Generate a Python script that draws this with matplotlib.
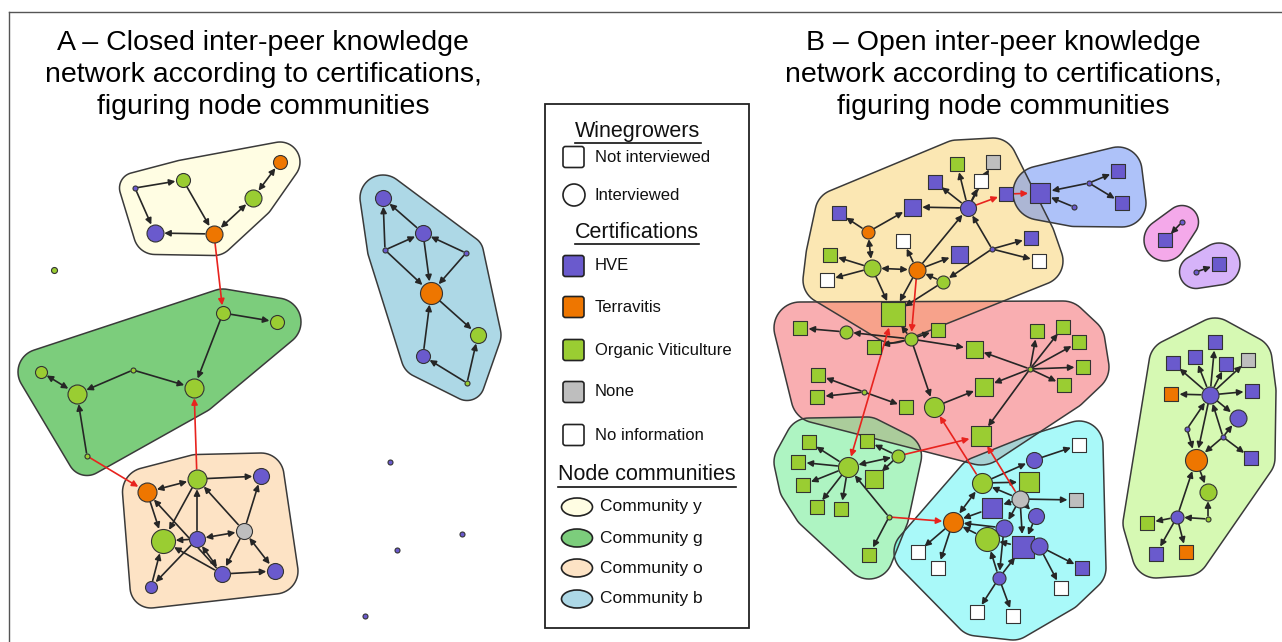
import matplotlib
matplotlib.use("Agg")
import matplotlib.pyplot as plt
from matplotlib.patches import Polygon, Rectangle, FancyBboxPatch, Ellipse
import numpy as np

plt.rcParams['font.family'] = ['Liberation Sans', 'DejaVu Sans']

# certification colours
cert_colors = {"HVE": "#6a5acd", "T": "#ee7600", "OV": "#9acd32",
               "None": "#bebebe", "NI": "#ffffff"}

# ---------------- panel A : closed network ----------------
# (id, x, y, shape, certification, radius / half side in px)
A_comm_y = [("y1", 135, 188, "c", "HVE", 2.5), ("y2", 183, 180, "c", "OV", 7),
            ("y3", 280, 162, "c", "T", 7), ("y4", 253, 198, "c", "OV", 8.5),
            ("y5", 155, 233, "c", "HVE", 8.5), ("y6", 214, 234, "c", "T", 8.5)]
A_comm_g = [("g1", 223, 313, "c", "OV", 7), ("g2", 277, 322, "c", "OV", 7),
            ("g3", 41, 372, "c", "OV", 6), ("g4", 133, 370, "c", "OV", 2.5),
            ("g5", 77, 394, "c", "OV", 9.5), ("g6", 194, 388, "c", "OV", 9.5),
            ("g7", 87, 456, "c", "OV", 2.5)]
A_comm_o = [("o1", 147, 492, "c", "T", 9.5), ("o2", 197, 479, "c", "OV", 9.5),
            ("o3", 261, 476, "c", "HVE", 8), ("o4", 163, 541, "c", "OV", 12),
            ("o5", 197, 539, "c", "HVE", 8), ("o6", 244, 531, "c", "None", 8),
            ("o7", 151, 587, "c", "HVE", 6), ("o8", 222, 574, "c", "HVE", 8),
            ("o9", 275, 571, "c", "HVE", 8)]
A_comm_b = [("b1", 383, 198, "c", "HVE", 8), ("b2", 423, 233, "c", "HVE", 8),
            ("b3", 385, 250, "c", "HVE", 2.5), ("b4", 466, 253, "c", "HVE", 2.5),
            ("b5", 431, 293, "c", "T", 11), ("b6", 478, 335, "c", "OV", 8),
            ("b7", 423, 356, "c", "HVE", 7), ("b8", 467, 383, "c", "OV", 2.5)]
A_isolated = [("i1", 54, 270, "c", "OV", 3), ("i2", 390, 462, "c", "HVE", 2.5),
              ("i3", 462, 534, "c", "HVE", 2.5), ("i4", 397, 550, "c", "HVE", 2.5),
              ("i5", 365, 616, "c", "HVE", 2.5)]

A_edges = [("y1", "y2"), ("y1", "y5"), ("y2", "y6"), ("y6", "y5"),
           ("g1", "g2"), ("g1", "g6"), ("g4", "g5"), ("g4", "g6"), ("g7", "g5"),
           ("o2", "o3"), ("o1", "o4"), ("o8", "o1"), ("o2", "o4"), ("o5", "o2"),
           ("o5", "o4"), ("o6", "o2"), ("o6", "o3"), ("o6", "o8"), ("o8", "o9"),
           ("o7", "o4"), ("o5", "o7"), ("o8", "o4"),
           ("b3", "b1"), ("b2", "b1"), ("b3", "b2"), ("b3", "b5"), ("b2", "b5"),
           ("b4", "b2"), ("b4", "b5"), ("b5", "b6"), ("b7", "b5"), ("b8", "b7"),
           ("b8", "b6")]
A_bi_edges = [("y6", "y4"), ("y4", "y3"), ("g3", "g5"), ("o1", "o2"),
              ("o5", "o6"), ("o6", "o9"), ("o8", "o5")]
A_red_edges = [("y6", "g1"), ("g7", "o1"), ("o2", "g6")]

# ---------------- panel B : open network ----------------
B_comm_y = [("Y1", 957, 164, "s", "OV", 7), ("Y2", 993, 162, "s", "None", 7),
            ("Y3", 981, 181, "s", "NI", 7), ("Y4", 935, 182, "s", "HVE", 7),
            ("Y5", 1006, 194, "s", "HVE", 7), ("Y6", 968, 208, "c", "HVE", 8),
            ("Y7", 912, 207, "s", "HVE", 8.5), ("Y8", 839, 213, "s", "HVE", 7),
            ("Y9", 868, 232, "c", "T", 6.5), ("Y10", 903, 241, "s", "NI", 7),
            ("Y11", 959, 254, "s", "HVE", 8.5), ("Y12", 992, 249, "c", "HVE", 2.5),
            ("Y13", 1031, 238, "s", "HVE", 7), ("Y14", 1039, 261, "s", "NI", 7),
            ("Y15", 830, 255, "s", "OV", 7), ("Y16", 872, 268, "c", "OV", 8.5),
            ("Y17", 917, 270, "c", "T", 8.5), ("Y18", 943, 282, "c", "OV", 6.5),
            ("Y19", 827, 280, "s", "NI", 7), ("Y20", 893, 314, "s", "OV", 12)]
B_comm_bl = [("B1", 1040, 193, "s", "HVE", 10), ("B2", 1089, 183, "c", "HVE", 2.5),
             ("B3", 1118, 171, "s", "HVE", 7), ("B4", 1122, 203, "s", "HVE", 7),
             ("B5", 1074, 207, "c", "HVE", 2.5)]
B_comm_p = [("P1", 1182, 222, "c", "HVE", 2.5), ("P2", 1165, 240, "s", "HVE", 7)]
B_comm_v = [("V1", 1196, 272, "c", "HVE", 2.5), ("V2", 1219, 264, "s", "HVE", 7)]
B_comm_r = [("R1", 911, 339, "c", "OV", 6.5), ("R2", 938, 330, "s", "OV", 7),
            ("R3", 800, 328, "s", "OV", 7), ("R4", 846, 332, "c", "OV", 6.5),
            ("R5", 874, 347, "s", "OV", 7), ("R6", 974, 349, "s", "OV", 8.5),
            ("R7", 1037, 331, "s", "OV", 7), ("R8", 1063, 327, "s", "OV", 7),
            ("R9", 1079, 342, "s", "OV", 7), ("R10", 1083, 367, "s", "OV", 7),
            ("R11", 1064, 385, "s", "OV", 7), ("R12", 1030, 369, "c", "OV", 2.5),
            ("R13", 818, 375, "s", "OV", 7), ("R14", 817, 397, "s", "OV", 7),
            ("R15", 864, 392, "c", "OV", 2.5), ("R16", 906, 407, "s", "OV", 7),
            ("R17", 934, 407, "c", "OV", 10), ("R18", 984, 387, "s", "OV", 9),
            ("R19", 981, 436, "s", "OV", 10)]
B_comm_m = [("M1", 809, 442, "s", "OV", 7), ("M2", 867, 441, "s", "OV", 7),
            ("M3", 898, 456, "c", "OV", 6.5), ("M4", 848, 467, "c", "OV", 10),
            ("M5", 798, 462, "s", "OV", 7), ("M6", 874, 479, "s", "OV", 9),
            ("M7", 803, 485, "s", "OV", 7), ("M8", 817, 507, "s", "OV", 7),
            ("M9", 841, 509, "s", "OV", 7), ("M10", 889, 517, "c", "OV", 2.5),
            ("M11", 869, 555, "s", "OV", 7)]
B_comm_c = [("C1", 1079, 445, "s", "NI", 7), ("C2", 1034, 460, "c", "HVE", 8),
            ("C3", 982, 483, "c", "OV", 10), ("C4", 1029, 482, "s", "OV", 10),
            ("C5", 1020, 499, "c", "None", 8.5), ("C6", 1076, 500, "s", "None", 7),
            ("C7", 992, 508, "s", "HVE", 10), ("C8", 1036, 516, "c", "HVE", 8),
            ("C9", 953, 522, "c", "T", 10), ("C10", 1004, 528, "c", "HVE", 8.5),
            ("C11", 987, 539, "c", "OV", 12), ("C12", 1023, 547, "s", "HVE", 11),
            ("C13", 1039, 546, "c", "HVE", 8.5), ("C14", 1082, 568, "s", "HVE", 7),
            ("C15", 918, 552, "s", "NI", 7), ("C16", 938, 568, "s", "NI", 7),
            ("C17", 999, 578, "c", "HVE", 6.5), ("C18", 1061, 588, "s", "NI", 7),
            ("C19", 977, 612, "s", "NI", 7), ("C20", 1013, 616, "s", "NI", 7)]
B_comm_l = [("L1", 1215, 342, "s", "HVE", 7), ("L2", 1195, 357, "s", "HVE", 7),
            ("L3", 1173, 363, "s", "HVE", 7), ("L4", 1226, 364, "s", "HVE", 7),
            ("L5", 1248, 360, "s", "None", 7), ("L6", 1171, 394, "s", "T", 7),
            ("L7", 1210, 395, "c", "HVE", 8.5), ("L8", 1252, 391, "s", "HVE", 7),
            ("L9", 1238, 418, "c", "HVE", 8.5), ("L10", 1187, 429, "c", "HVE", 2.5),
            ("L11", 1223, 437, "c", "HVE", 2.5), ("L12", 1196, 460, "c", "T", 11),
            ("L13", 1251, 458, "s", "HVE", 7), ("L14", 1208, 492, "c", "OV", 8.5),
            ("L15", 1208, 519, "c", "OV", 2.5), ("L16", 1177, 517, "c", "HVE", 6.5),
            ("L17", 1147, 523, "s", "OV", 7), ("L18", 1156, 554, "s", "HVE", 7),
            ("L19", 1186, 552, "s", "T", 7)]

B_edges = [("Y6", "Y1"), ("Y6", "Y2"), ("Y6", "Y3"), ("Y6", "Y4"), ("Y6", "Y7"),
           ("Y17", "Y6"), ("Y12", "Y6"), ("Y12", "Y13"), ("Y12", "Y14"),
           ("Y12", "Y18"), ("Y17", "Y11"), ("Y17", "Y10"), ("Y9", "Y8"),
           ("Y9", "Y7"), ("Y16", "Y15"), ("Y16", "Y19"), ("Y16", "Y20"),
           ("Y17", "Y20"), ("Y18", "Y20"), ("Y18", "Y17"),
           ("B2", "B1"), ("B2", "B3"), ("B2", "B4"), ("B5", "B1"),
           ("P1", "P2"), ("V1", "V2"),
           ("R1", "Y20"), ("R1", "R2"), ("R1", "R4"), ("R4", "R3"), ("R1", "R5"),
           ("R1", "R6"), ("R1", "R17"), ("R15", "R13"), ("R15", "R14"),
           ("R15", "R16"), ("R17", "R18"), ("R12", "R6"), ("R12", "R7"),
           ("R12", "R8"), ("R12", "R9"), ("R12", "R10"), ("R12", "R11"),
           ("R12", "R18"), ("R12", "R19"),
           ("M4", "M1"), ("M4", "M5"), ("M4", "M7"), ("M4", "M8"), ("M4", "M9"),
           ("M3", "M2"), ("M3", "M6"), ("M10", "M4"), ("M10", "M11"),
           ("C2", "C1"), ("C3", "C2"), ("C5", "C3"), ("C5", "C4"), ("C5", "C6"),
           ("C5", "C7"), ("C5", "C8"), ("C5", "C12"), ("C5", "C10"), ("C7", "C9"),
           ("C9", "C15"), ("C9", "C16"), ("C10", "C9"), ("C11", "C9"),
           ("C12", "C11"), ("C17", "C11"), ("C17", "C19"), ("C17", "C20"),
           ("C17", "C12"), ("C13", "C14"), ("C13", "C18"), ("C8", "C12"),
           ("C10", "C17"), ("C3", "C4"),
           ("L7", "L1"), ("L7", "L2"), ("L7", "L3"), ("L7", "L4"), ("L7", "L5"),
           ("L7", "L6"), ("L7", "L8"), ("L7", "L9"), ("L10", "L7"), ("L10", "L12"),
           ("L7", "L12"), ("L11", "L7"), ("L11", "L9"), ("L11", "L12"),
           ("L11", "L13"), ("L12", "L14"), ("L16", "L12"), ("L15", "L14"),
           ("L15", "L16"), ("L16", "L17"), ("L16", "L18"), ("L16", "L19")]
B_bi_edges = [("Y17", "Y16"), ("Y16", "Y9"), ("M3", "M4"), ("C3", "C9")]
B_red_edges = [("Y6", "Y5"), ("Y5", "B1"), ("Y17", "R1"), ("M3", "R19"),
               ("C3", "R17"), ("C5", "R19"), ("M10", "C9")]
B_red_bi_edges = [("Y20", "M4")]

# community fills: (nodes, colour, alpha, padding)
communities = [
    (A_comm_y, "#fffde3", 1.0, 13), (A_comm_g, "#7ccd7c", 1.0, 17),
    (A_comm_o, "#fde3c5", 1.0, 15), (A_comm_b, "#add8e6", 1.0, 15),
    (B_comm_y, "#f9d169", 0.5, 17), (B_comm_bl, "#5f87f5", 0.5, 17),
    (B_comm_p, "#eb55d7", 0.5, 14), (B_comm_v, "#af69f5", 0.5, 14),
    (B_comm_r, "#f55f65", 0.5, 19), (B_comm_m, "#5feb87", 0.5, 17),
    (B_comm_c, "#55f5f5", 0.5, 17), (B_comm_l, "#aff569", 0.5, 17),
]

W, H = 1282, 642
PT = 72 / 100.0  # points per pixel

fig = plt.figure(figsize=(12.82, 6.42), dpi=100)
ax = fig.add_axes([0, 0, 1, 1])
ax.set_xlim(0, W)
ax.set_ylim(H, 0)
ax.axis('off')


def convex_hull(pts):
    pts = sorted(set(pts))

    def cross(o, a, b):
        return (a[0] - o[0]) * (b[1] - o[1]) - (a[1] - o[1]) * (b[0] - o[0])
    lower, upper = [], []
    for p in pts:
        while len(lower) >= 2 and cross(lower[-2], lower[-1], p) <= 0:
            lower.pop()
        lower.append(p)
    for p in reversed(pts):
        while len(upper) >= 2 and cross(upper[-2], upper[-1], p) <= 0:
            upper.pop()
        upper.append(p)
    return lower[:-1] + upper[:-1]


ang = np.linspace(0, 2 * np.pi, 60, endpoint=False)
for nodes, col, alpha, pad in communities:
    pts = []
    for _, x, y, shp, _, r in nodes:
        rr = r + pad
        for a in ang:
            pts.append((round(x + rr * np.cos(a), 2), round(y + rr * np.sin(a), 2)))
    hull = convex_hull(pts)
    ax.add_patch(Polygon(hull, closed=True, facecolor=col, alpha=alpha,
                         edgecolor='none', zorder=1))
    ax.add_patch(Polygon(hull, closed=True, facecolor='none',
                         edgecolor='#3a3a3a', lw=1.1, zorder=1.5))

# lookup tables
all_nodes = (A_comm_y + A_comm_g + A_comm_o + A_comm_b + A_isolated + B_comm_y
             + B_comm_bl + B_comm_p + B_comm_v + B_comm_r + B_comm_m + B_comm_c
             + B_comm_l)
pos = {n[0]: (n[1], n[2]) for n in all_nodes}
rad = {n[0]: (n[5] * (1.12 if n[3] == "s" else 1.0)) for n in all_nodes}


def draw_edge(a, b, color, style):
    ax.annotate("", xy=pos[b], xytext=pos[a],
                arrowprops=dict(arrowstyle=style, color=color, lw=1.2,
                                shrinkA=rad[a] * PT + 0.5,
                                shrinkB=rad[b] * PT + 0.5,
                                mutation_scale=9),
                zorder=3)


for a, b in A_edges + B_edges:
    draw_edge(a, b, "#262626", "-|>")
for a, b in A_bi_edges + B_bi_edges:
    draw_edge(a, b, "#262626", "<|-|>")
for a, b in A_red_edges + B_red_edges:
    draw_edge(a, b, "#e8231e", "-|>")
for a, b in B_red_bi_edges:
    draw_edge(a, b, "#e8231e", "<|-|>")

for _, x, y, shp, cert, r in all_nodes:
    ax.scatter([x], [y], s=(2 * r * PT) ** 2, marker="o" if shp == "c" else "s",
               facecolor=cert_colors[cert], edgecolor="#333333",
               linewidths=0.8, zorder=4)

# titles
ax.text(263, 75, "A – Closed inter-peer knowledge\nnetwork according to certifications,\n"
        "figuring node communities", ha='center', va='center', fontsize=20.5,
        linespacing=1.3, color='black')
ax.text(1003, 75, "B – Open inter-peer knowledge\nnetwork according to certifications,\n"
        "figuring node communities", ha='center', va='center', fontsize=20.5,
        linespacing=1.3, color='black')

# frame
ax.plot([9, W], [12, 12], color='#555555', lw=1.0, zorder=6)
ax.plot([9, 9], [12, H], color='#555555', lw=1.0, zorder=6)

# legend
ax.add_patch(Rectangle((545, 104), 204, 524, facecolor='white',
                       edgecolor='#222222', lw=1.3, zorder=5))
renderer = fig.canvas.get_renderer()
inv = ax.transData.inverted()
for label, lx, ly in [("Winegrowers", 638, 131), ("Certifications", 637, 232),
                      ("Node communities", 647, 475)]:
    t = ax.text(lx, ly, label, ha='center', va='center', fontsize=15.5,
                color='#111111', zorder=6)
    bb = t.get_window_extent(renderer)
    (x0, y0), (x1, y1) = inv.transform([(bb.x0, bb.y0), (bb.x1, bb.y1)])
    ax.plot([x0, x1], [y0 + 1, y0 + 1], color='#111111', lw=1.2, zorder=6)

legend_rows = [("Not interviewed", "s", "NI", 157), ("Interviewed", "c", "NI", 195),
               ("HVE", "s", "HVE", 266), ("Terravitis", "s", "T", 307),
               ("Organic Viticulture", "s", "OV", 350), ("None", "s", "None", 392),
               ("No information", "s", "NI", 435)]
for label, shp, cert, ly in legend_rows:
    if shp == "s":
        ax.add_patch(FancyBboxPatch((563, ly - 10.5), 21, 21,
                                    boxstyle="round,pad=0,rounding_size=2.5",
                                    facecolor=cert_colors[cert], edgecolor='#222222',
                                    lw=1.2, zorder=6))
    else:
        ax.add_patch(Ellipse((574, ly), 22, 22, facecolor='white',
                             edgecolor='#222222', lw=1.2, zorder=6))
    ax.text(595, ly, label, ha='left', va='center', fontsize=12, color='#111111',
            zorder=6)

comm_rows = [("Community y", "#fffde3", 507), ("Community g", "#7ccd7c", 538),
             ("Community o", "#fde3c5", 568), ("Community b", "#add8e6", 599)]
for label, col, ly in comm_rows:
    ax.add_patch(Ellipse((577, ly), 31, 18, facecolor=col, edgecolor='#222222',
                         lw=1.2, zorder=6))
    ax.text(600, ly, label, ha='left', va='center', fontsize=12.5,
            color='#111111', zorder=6)

fig.savefig("out.png", dpi=100)
